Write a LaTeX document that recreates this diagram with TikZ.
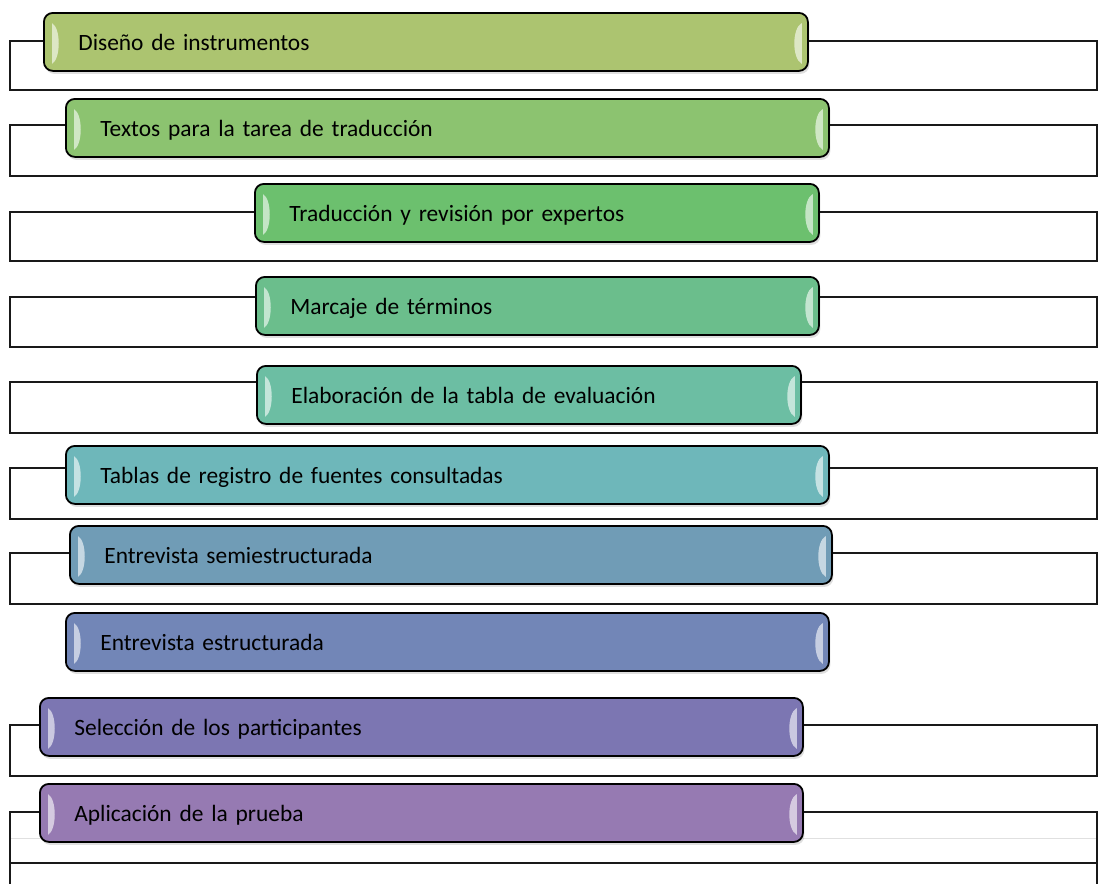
\documentclass[tikz,border=0pt]{standalone}
\usepackage{fontspec}
\setmainfont{Carlito}[WordSpace=0.8]
\usetikzlibrary{shadows,calc}
\definecolor{c1}{RGB}{172,196,112}
\definecolor{c2}{RGB}{140,195,112}
\definecolor{c3}{RGB}{108,192,110}
\definecolor{c4}{RGB}{107,190,140}
\definecolor{c5}{RGB}{108,190,163}
\definecolor{c6}{RGB}{110,183,186}
\definecolor{c7}{RGB}{112,156,182}
\definecolor{c8}{RGB}{114,134,183}
\definecolor{c9}{RGB}{124,118,178}
\definecolor{c10}{RGB}{150,122,178}
\colorlet{basecol}{c1}
\pgfdeclareverticalshading[basecol]{gloss}{100bp}{color(0bp)=(basecol!80!white); color(6bp)=(basecol); color(86bp)=(basecol); color(100bp)=(basecol!45!white)}
\tikzset{
  stepbox/.style={draw=black, line width=1.8pt, rounded corners=9pt,
    minimum height=58pt, inner xsep=34.5pt, inner ysep=0pt, align=left,
    text height=21pt, text depth=4pt, anchor=north west,
    font=\fontsize{23.4pt}{28pt}\selectfont, shading=gloss,
    drop shadow={shadow xshift=1.5pt, shadow yshift=-3pt, opacity=0.25}},
  link/.style={draw=black!90, line width=1.6pt},
  faint/.style={draw=black!12, line width=1pt},
  hilite/.style={fill=basecol!25!white, opacity=0.8},
}
% name, left, top, width, colour, text
\newcommand{\stepitem}[6]{%
  \colorlet{basecol}{#5}%
  \pgfmathsetmacro\stw{#4-69}%
  \node[stepbox, minimum width=#4pt, text width=\stw pt] (#1) at (#2,#3) {#6};
  \fill[hilite] ([xshift=9pt,yshift=-11pt]#1.north west) .. controls +(9pt,-5pt) and +(9pt,5pt) .. ([xshift=9pt,yshift=8pt]#1.south west) -- cycle;
  \fill[hilite] ([xshift=-7pt,yshift=-11pt]#1.north east) .. controls +(-10pt,-5pt) and +(-10pt,5pt) .. ([xshift=-7pt,yshift=8pt]#1.south east) -- cycle;
}
% name, offset of line below box top, bottom coordinate
\newcommand{\bracket}[3]{%
  \draw[link] ([yshift=-#2pt]#1.north west) -- ([yshift=-#2pt]#1.north west -| xl) |- (#3) |- ([yshift=-#2pt]#1.north east);
}
\begin{document}
\begin{tikzpicture}[x=1pt,y=-1pt]
\useasboundingbox (0,0) rectangle (1098,884);
\coordinate (xl) at (10,0);
\coordinate (xr) at (1097,0);
\coordinate (bot1) at (1097,90);
\coordinate (bot2) at (1097,176);
\coordinate (bot3) at (1097,261);
\coordinate (bot4) at (1097,347);
\coordinate (bot5) at (1097,433);
\coordinate (bot6) at (1097,519);
\coordinate (bot7) at (1097,604);
\coordinate (bot9) at (1097,776);
\coordinate (fl) at (10,838);
\coordinate (fr) at (1097,838);
\coordinate (hl) at (10,863);
\coordinate (hr) at (1097,863);
\coordinate (el) at (10,884);
\coordinate (er) at (1097,884);
\draw[faint] (fl) -- (fr);

\stepitem{b1}{43}{12}{764}{c1}{Diseño de instrumentos}
\stepitem{b2}{65}{98}{763}{c2}{Textos para la tarea de traducción}
\stepitem{b3}{254}{183}{564}{c3}{Traducción y revisión por expertos}
\stepitem{b4}{255}{276}{563}{c4}{Marcaje de términos}
\stepitem{b5}{256}{365}{544}{c5}{Elaboración de la tabla de evaluación}
\stepitem{b6}{65}{445}{763}{c6}{Tablas de registro de fuentes consultadas}
\stepitem{b7}{69}{525}{762}{c7}{Entrevista semiestructurada}
\stepitem{b8}{65}{612}{763}{c8}{Entrevista estructurada}
\stepitem{b9}{39}{697}{763}{c9}{Selección de los participantes}
\stepitem{b10}{39}{783}{763}{c10}{Aplicación de la prueba}

\bracket{b1}{29}{bot1}
\bracket{b2}{27}{bot2}
\bracket{b3}{29}{bot3}
\bracket{b4}{21}{bot4}
\bracket{b5}{17}{bot5}
\bracket{b6}{23}{bot6}
\bracket{b7}{28}{bot7}
\bracket{b9}{28}{bot9}
\draw[link] ([yshift=-29pt]b10.north west) -- ([yshift=-29pt]b10.north west -| xl) -- (el);
\draw[link] ([yshift=-29pt]b10.north east) -- ([yshift=-29pt]b10.north east -| xr) -- (er);
\draw[link] (hl) -- (hr);
\end{tikzpicture}
\end{document}
